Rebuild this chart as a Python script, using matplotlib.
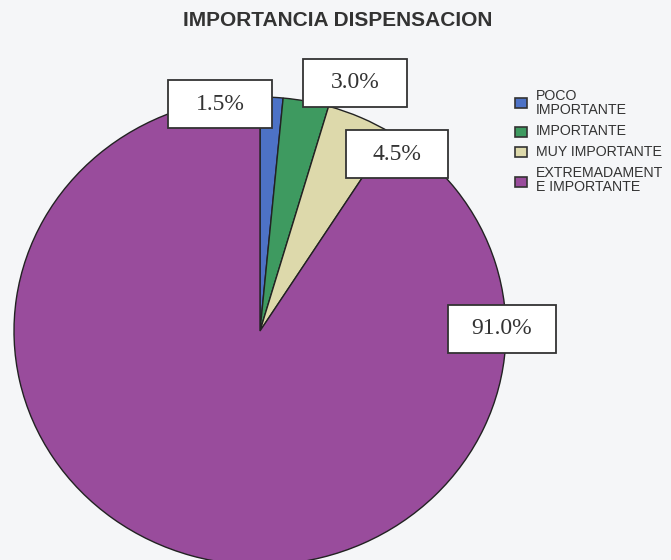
import matplotlib.pyplot as plt
from matplotlib.patches import Rectangle

categories = ["POCO\nIMPORTANTE", "IMPORTANTE", "MUY IMPORTANTE", "EXTREMADAMENT\nE IMPORTANTE"]
values = [1.5, 3.0, 4.5, 91.0]
colors = ["#4d72c6", "#3e9a60", "#ddd9ab", "#994c9c"]

# label boxes: centre x, centre y, width, height (pixels from top-left)
label_box = [(220, 104, 104, 48), (355, 83, 104, 48), (397, 154, 102, 48), (502, 329, 108, 48)]

W, H = 671, 560
cx, cy, rx, ry = 260, 331, 246, 234
squash = ry / rx

fig = plt.figure(figsize=(W / 100, H / 100), dpi=100)
fig.patch.set_facecolor("#f5f6f8")

ax = fig.add_axes([0, 0, 1, 1])
wedges, _ = ax.pie(values, colors=colors, startangle=90, counterclock=False,
                   center=(cx, (H - cy) / squash), radius=rx,
                   wedgeprops=dict(edgecolor="#222222", linewidth=1.0))
ax.set_aspect("auto")
ax.set_xlim(0, W)
ax.set_ylim(0, H / squash)
ax.axis("off")

# overlay in pixel coords for texts
ov = fig.add_axes([0, 0, 1, 1])
ov.set_xlim(0, W)
ov.set_ylim(H, 0)
ov.axis("off")

for v, (x, y, w, h) in zip(values, label_box):
    ov.add_patch(Rectangle((x - w / 2, y - h / 2), w, h, fc="white", ec="#333333", lw=1.3))
    ov.text(x, y, f"{v:.1f}%", ha="center", va="center",
            family="Liberation Serif", fontsize=17, color="#333333")

ov.text(338, 21, "IMPORTANCIA DISPENSACION", ha="center", va="center",
        family="Liberation Sans", fontweight="bold", fontsize=15, color="#333333")

# legend
sq_y = [103, 132, 152, 182]
txt_y = [103, 131, 152, 180]
for c, lab, ys, yt in zip(colors, categories, sq_y, txt_y):
    ov.add_patch(Rectangle((515, ys - 5), 12, 10, fc=c, ec="#333333", lw=1.2))
    ov.text(536, yt, lab, ha="left", va="center", family="Liberation Sans",
            fontsize=10.2, color="#333333", linespacing=0.92)

fig.savefig("out.png", dpi=100, facecolor=fig.get_facecolor())
